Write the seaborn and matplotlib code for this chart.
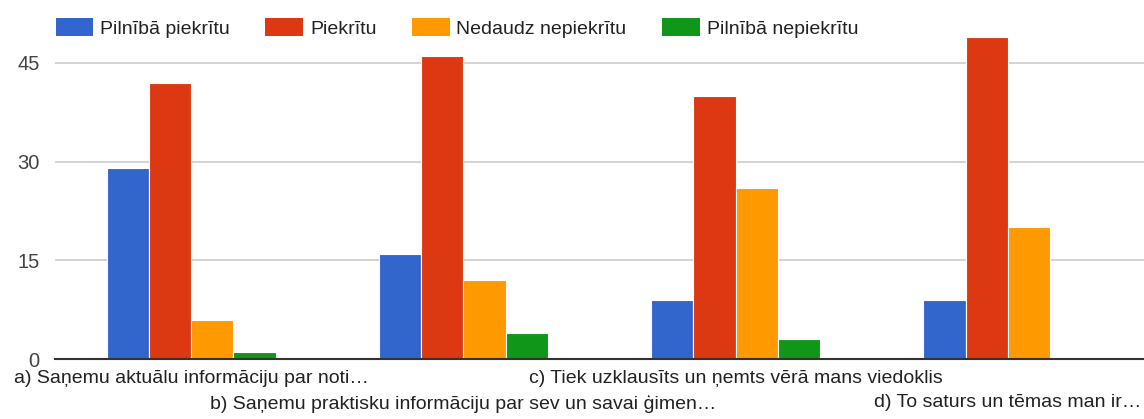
import pandas as pd
import matplotlib
matplotlib.use("Agg")
import matplotlib.pyplot as plt
import seaborn as sns
from matplotlib.patches import Patch

# dati
questions = ['a) Saņemu aktuālu informāciju par noti…',
             'b) Saņemu praktisku informāciju par sev un savai ģimen…',
             'c) Tiek uzklausīts un ņemts vērā mans viedoklis',
             'd) To saturs un tēmas man ir…']
answers = ['Pilnībā piekrītu', 'Piekrītu', 'Nedaudz nepiekrītu', 'Pilnībā nepiekrītu']
fully_agree = [29, 16, 9, 9]
agree = [42, 46, 40, 49]
somewhat_disagree = [6, 12, 26, 20]
fully_disagree = [1, 4, 3, 0]
colors = ['#3366CC', '#DC3912', '#FF9900', '#109618']

wide = pd.DataFrame({'question': questions,
                     answers[0]: fully_agree,
                     answers[1]: agree,
                     answers[2]: somewhat_disagree,
                     answers[3]: fully_disagree})
df = wide.melt(id_vars='question', var_name='answer', value_name='count')

sns.set_theme(style="white")
plt.rcParams["font.family"] = ["Liberation Sans", "DejaVu Sans"]

f = plt.figure(figsize=(11.44, 4.19), dpi=100)
ax = f.add_axes([55/1144, 60/419, 1089/1144, 329/419])

sns.barplot(data=df, x='question', y='count', hue='answer', hue_order=answers,
            palette=colors, width=0.62, edgecolor='white', linewidth=0.8,
            saturation=1, ax=ax, legend=False)

ax.set_ylim(0, 50)
ax.set_xlim(-0.5, 3.5)
ax.set_yticks([0, 15, 30, 45])
ax.yaxis.grid(True, color='#cccccc', linewidth=1.2)
ax.set_axisbelow(True)
for s in ['top', 'right', 'left']:
    ax.spines[s].set_visible(False)
ax.spines['bottom'].set_color('#333333')
ax.spines['bottom'].set_linewidth(1.5)
ax.tick_params(axis='y', length=0, pad=11, labelsize=14.5, labelcolor='#444444')
ax.tick_params(axis='x', length=0, pad=8, labelsize=14, labelcolor='#222222')
ax.set_xlabel('')
ax.set_ylabel('')

# pamīšus etiķetes divās rindās
labs = [q if i % 2 == 0 else '\n' + q for i, q in enumerate(questions)]
ax.set_xticks(range(len(questions)))
ax.set_xticklabels(labs, linespacing=1.55)

handles = [Patch(facecolor=c, edgecolor='none', label=a) for c, a in zip(colors, answers)]
f.legend(handles=handles, loc='center left', bbox_to_anchor=(38/1144, 1 - 28/419),
         ncol=4, frameon=False, fontsize=14, handlelength=1.95, handleheight=1.0,
         columnspacing=1.8, handletextpad=0.36, labelcolor='#222222')

f.savefig('out.png', dpi=100)
